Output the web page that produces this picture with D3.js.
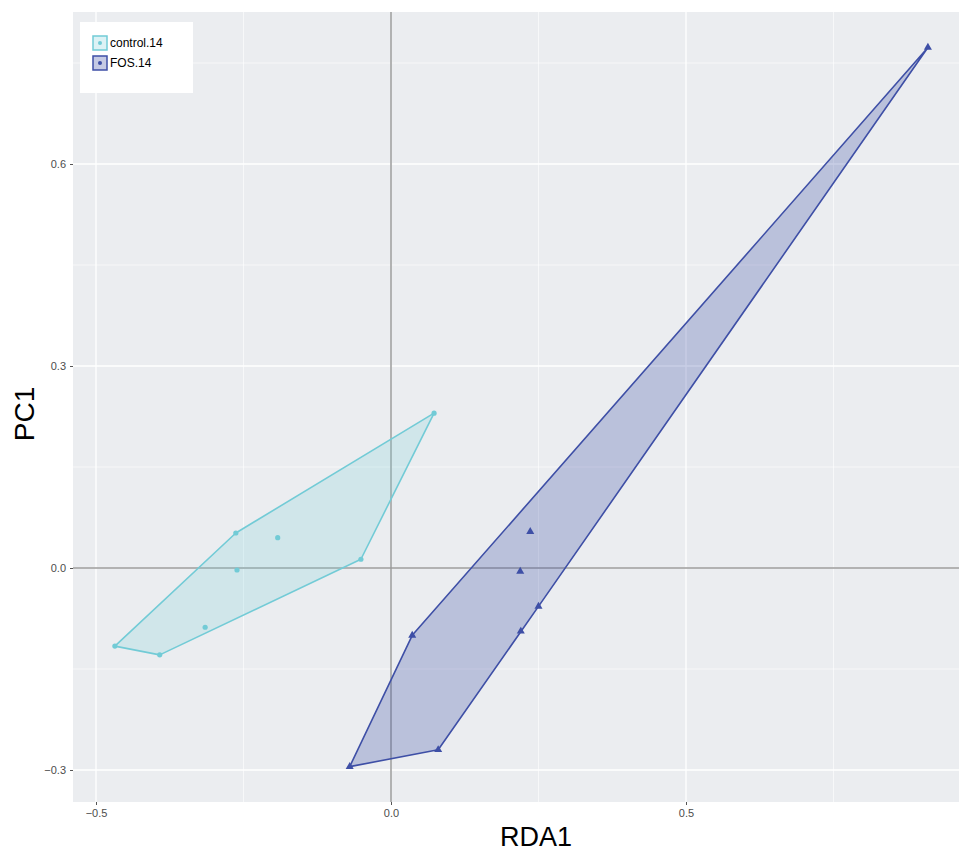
<!DOCTYPE html>
<html><head><meta charset="utf-8">
<script src="https://cdn.jsdelivr.net/npm/d3@7/dist/d3.min.js"></script>
<style>body{margin:0;background:#fff}svg{display:block}</style>
</head><body><svg id="c" width="959" height="855"></svg>
<script>
const groups = ["control.14", "FOS.14"];
const controlX = [0.073, -0.263, -0.192, -0.261, -0.051, -0.315, -0.468, -0.392];
const controlY = [0.230, 0.052, 0.045, -0.003, 0.013, -0.088, -0.116, -0.129];
const fosX = [0.236, 0.219, 0.250, 0.220, 0.036, 0.080, -0.070, 0.910];
const fosY = [0.054, -0.005, -0.057, -0.094, -0.100, -0.270, -0.295, 0.773];
const xTicks = [-0.5, 0.0, 0.5];
const yTicks = [-0.3, 0.0, 0.3, 0.6];
const xMinor = [-0.25, 0.25, 0.75];
const yMinor = [-0.15, 0.15, 0.45, 0.75];
const colors = ["#72CBD6", "#3E4FA6"];

const svg = d3.select("#c");
const L = 73, T = 12, R = 999, B = 802;
const x = d3.scaleLinear().domain([-0.5, 0.5]).range([96, 686]);
const y = d3.scaleLinear().domain([0, 0.3]).range([568, 366]);

svg.append("defs").append("clipPath").attr("id","clip")
  .append("rect").attr("x",L).attr("y",T).attr("width",R-L).attr("height",B-T);
svg.append("rect").attr("x",L).attr("y",T).attr("width",R-L).attr("height",B-T).attr("fill","#EBEDF0");
const g = svg.append("g").attr("clip-path","url(#clip)");
g.selectAll(".vmin").data(xMinor).join("line").attr("x1",d=>x(d)).attr("x2",d=>x(d)).attr("y1",T).attr("y2",B).attr("stroke","#fff").attr("stroke-width",0.6);
g.selectAll(".hmin").data(yMinor).join("line").attr("y1",d=>y(d)).attr("y2",d=>y(d)).attr("x1",L).attr("x2",R).attr("stroke","#fff").attr("stroke-width",0.6);
g.selectAll(".vmaj").data(xTicks).join("line").attr("x1",d=>x(d)).attr("x2",d=>x(d)).attr("y1",T).attr("y2",B).attr("stroke","#fff").attr("stroke-width",1.3);
g.selectAll(".hmaj").data(yTicks).join("line").attr("y1",d=>y(d)).attr("y2",d=>y(d)).attr("x1",L).attr("x2",R).attr("stroke","#fff").attr("stroke-width",1.3);
// zero lines
g.append("line").attr("x1",x(0)).attr("x2",x(0)).attr("y1",T).attr("y2",B).attr("stroke","#9a9a9a").attr("stroke-width",1.5);
g.append("line").attr("y1",y(0)).attr("y2",y(0)).attr("x1",L).attr("x2",R).attr("stroke","#9a9a9a").attr("stroke-width",1.5);

const sets = [
  controlX.map((v,i)=>[v, controlY[i]]),
  fosX.map((v,i)=>[v, fosY[i]])
];
sets.forEach((pts, k) => {
  const hull = d3.polygonHull(pts.map(p=>[x(p[0]), y(p[1])]));
  g.append("path").attr("d", "M" + hull.join("L") + "Z")
    .attr("fill", colors[k]).attr("fill-opacity", k===0 ? 0.22 : 0.28)
    .attr("stroke", colors[k]).attr("stroke-width", 1.6).attr("stroke-linejoin","round");
});
g.selectAll(".cp").data(sets[0]).join("circle")
  .attr("cx",d=>x(d[0])).attr("cy",d=>y(d[1])).attr("r",2.6).attr("fill",colors[0]);
const tri = d3.symbol().type(d3.symbolTriangle).size(28);
g.selectAll(".fp").data(sets[1]).join("path")
  .attr("transform",d=>`translate(${x(d[0])},${y(d[1])})`).attr("d",tri).attr("fill",colors[1]);

// axes
const xa = svg.append("g").attr("transform",`translate(0,${B})`)
  .call(d3.axisBottom(x).tickValues(xTicks).tickFormat(d3.format(".1f")).tickSize(3).tickPadding(4));
const ya = svg.append("g").attr("transform",`translate(${L},0)`)
  .call(d3.axisLeft(y).tickValues(yTicks).tickFormat(d3.format(".1f")).tickSize(3).tickPadding(4));
[xa, ya].forEach(a=>{
  a.select(".domain").remove();
  a.selectAll("line").attr("stroke","#555");
  a.selectAll("text").attr("fill","#4d4d4d").attr("font-size",11).attr("font-family","Liberation Sans, Arial, sans-serif");
});
xa.selectAll("text").text(d=>d3.format(".1f")(d).replace("-","\u2212"));
ya.selectAll("text").text(d=>d3.format(".1f")(d).replace("-","\u2212"));

svg.append("text").attr("x",536).attr("y",846).attr("text-anchor","middle")
  .attr("font-size",27).attr("font-family","Liberation Sans, Arial, sans-serif").attr("fill","#000").text("RDA1");
svg.append("text").attr("transform","translate(34,414) rotate(-90)").attr("text-anchor","middle")
  .attr("font-size",28).attr("font-family","Liberation Sans, Arial, sans-serif").attr("fill","#000").text("PC1");

// legend
const lg = svg.append("g");
lg.append("rect").attr("x",80).attr("y",22).attr("width",113).attr("height",71).attr("fill","#fff");
groups.forEach((name,k)=>{
  const yy = 36 + k*20;
  lg.append("rect").attr("x",93).attr("y",yy).attr("width",14).attr("height",14)
    .attr("fill",colors[k]).attr("fill-opacity",k===0?0.25:0.3).attr("stroke",colors[k]).attr("stroke-width",1.5);
  lg.append("circle").attr("cx",100).attr("cy",yy+7).attr("r",2).attr("fill",colors[k]);
  lg.append("text").attr("x",110).attr("y",yy+11).attr("font-size",12)
    .attr("font-family","Liberation Sans, Arial, sans-serif").attr("fill","#000").text(name);
});
</script></body></html>
